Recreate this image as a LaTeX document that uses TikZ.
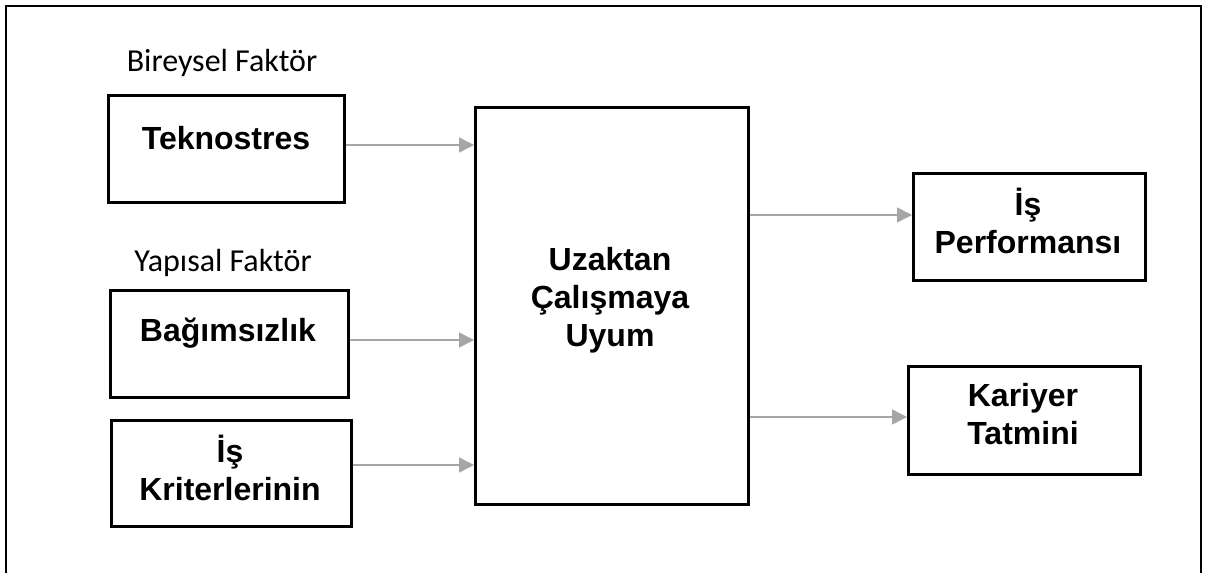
\documentclass[tikz,border=0pt]{standalone}
\usepackage{fontspec}
\setmainfont{Liberation Sans}
\newfontfamily\calib{Carlito}
\usetikzlibrary{arrows.meta}
\definecolor{arrowgray}{HTML}{A6A6A6}
\begin{document}
\begin{tikzpicture}[x=1pt,y=-1pt,
  boxshape/.style={draw=black,line width=2.6pt,inner sep=0pt,anchor=north west},
  boxtext/.style={font=\fontsize{32}{38}\selectfont\bfseries,align=center,inner sep=0pt},
  facttext/.style={font=\calib\fontsize{32}{38}\selectfont,inner sep=0pt},
  conn/.style={draw=arrowgray,line width=1.5pt,-{Triangle[length=15pt,width=15pt]}}]
\useasboundingbox (0,0) rectangle (1208,573);
% outer frame
\draw[line width=2.2pt] (6,580) -- (6,6) -- (1201,6) -- (1201,580);
% left boxes
\node[boxshape,minimum width=236pt,minimum height=107pt] (tek) at (107,94) {};
\node[boxshape,minimum width=238pt,minimum height=107pt] (bag) at (109,289) {};
\node[boxshape,minimum width=240pt,minimum height=106pt] (kri) at (110,419) {};
% center box
\node[boxshape,minimum width=273pt,minimum height=397pt] (uzak) at (474,106) {};
% right boxes
\node[boxshape,minimum width=232pt,minimum height=107pt] (perf) at (912,172) {};
\node[boxshape,minimum width=232pt,minimum height=108pt] (kar) at (907,365) {};
% labels
\node[facttext] (bir) at (222,63) {Bireysel Faktör};
\node[facttext] (yap) at (223,263) {Yapısal Faktör};
\node[boxtext] (tekt) at (226,138) {Teknostres};
\node[boxtext] (bagt) at (228,333) {Bağımsızlık};
\node[boxtext] (krit) at (230,468) {İş\\Kriterlerinin};
\node[boxtext] (uzakt) at (610,300) {Uzaktan\\Çalışmaya\\Uyum};
\node[boxtext] (perft) at (1028,221) {İş\\Performansı};
\node[boxtext] (kart) at (1023,414) {Kariyer\\Tatmini};
% connectors
\draw[conn] (tek.east |- 0,145) -- (uzak.west |- 0,145);
\draw[conn] (bag.east |- 0,340) -- (uzak.west |- 0,340);
\draw[conn] (kri.east |- 0,465) -- (uzak.west |- 0,465);
\draw[conn] (uzak.east |- 0,215) -- (perf.west |- 0,215);
\draw[conn] (uzak.east |- 0,417) -- (kar.west |- 0,417);
\end{tikzpicture}
\end{document}
